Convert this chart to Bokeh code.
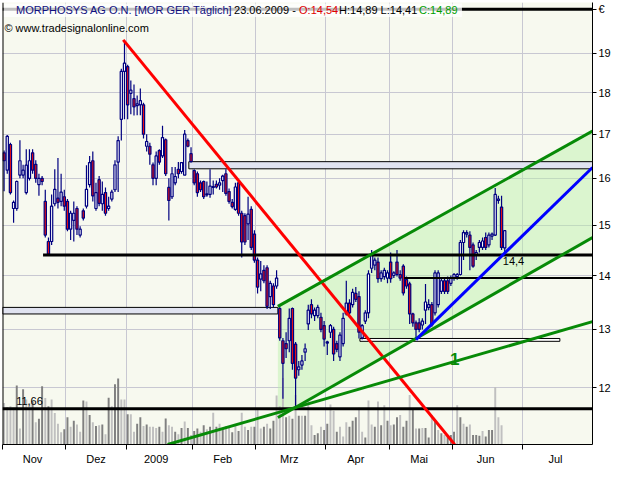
from bokeh.plotting import figure
from bokeh.models import Range1d, FixedTicker, ColumnDataSource, Span, NumeralTickFormatter, LinearScale
from bokeh.core.properties import value
from bokeh.embed import file_html
from bokeh.resources import INLINE

# ---------------- data ----------------
# trading-day index 0 = 3 Nov 2008 ... 158 = 23 Jun 2009
opens = [16.57,16.18,16.76,15.35,15.35,16.07,16.07,15.69,16.00,16.57,16.31,15.86,16.00,15.50,14.67,14.67,15.45,15.57,15.50,15.60,
         15.50,14.92,15.10,15.35,14.80,15.30,15.40,15.86,16.39,15.35,15.97,15.45,15.69,15.35,15.55,15.75,16.36,17.35,18.53,
         18.65,17.98,17.85,17.68,17.70,17.70,16.72,16.72,16.30,16.00,16.62,16.50,16.87,15.80,15.60,15.90,16.20,16.15,16.07,16.85,16.55,
         16.17,16.10,15.90,15.93,15.64,15.65,15.80,15.87,15.85,15.95,16.10,15.71,15.48,15.33,15.90,15.25,15.20,15.03,15.33,14.82,
         14.30,13.93,14.10,14.15,13.60,13.80,13.80,13.38,12.80,12.75,12.80,13.38,12.74,12.30,12.38,12.60,13.10,13.45,13.25,13.25,13.22,13.07,
         12.76,12.95,13.00,12.75,12.52,12.75,13.28,13.48,13.45,13.66,13.60,12.85,13.15,13.30,14.14,14.20,14.26,13.94,13.98,13.95,
         14.26,14.00,14.26,14.02,14.18,13.92,13.84,13.28,13.12,13.12,13.08,13.35,13.40,13.45,13.30,13.45,13.70,13.90,13.90,13.85,
         13.95,13.98,14.02,14.65,14.82,14.80,14.60,14.40,14.55,14.55,14.75,14.60,14.78,14.80,15.52,15.38,14.54]
highs = [16.62,16.98,16.80,15.52,15.95,16.86,16.30,16.65,16.65,16.65,16.40,16.10,16.05,15.75,14.75,15.65,16.20,16.45,16.10,15.75,
         15.55,15.30,15.50,15.40,14.98,15.35,16.29,16.50,16.60,15.90,16.05,15.93,15.80,15.60,15.75,16.40,16.95,18.60,19.34,
         18.70,18.30,18.20,17.93,18.10,17.75,17.00,16.80,16.35,16.60,16.65,17.20,16.90,16.00,16.25,16.25,16.36,16.36,17.10,16.90,16.70,
         16.20,16.15,15.95,15.95,15.93,16.20,15.95,15.95,16.00,16.08,16.20,15.78,15.55,15.90,15.95,15.30,15.25,15.60,15.40,14.90,
         14.35,14.28,14.20,14.20,13.90,13.85,14.10,13.42,12.85,12.95,13.38,13.40,12.78,12.45,12.55,12.75,13.45,13.55,13.40,13.45,13.30,13.15,
         12.80,13.10,13.05,12.80,12.95,13.30,13.90,13.55,13.75,13.78,13.70,13.10,13.35,14.10,14.50,14.35,14.35,14.10,14.15,14.10,
         14.45,14.08,14.50,14.10,14.22,13.98,13.88,13.30,13.16,13.20,13.20,13.84,13.55,13.50,14.10,14.10,13.95,13.95,13.98,14.00,
         14.05,14.05,14.70,14.90,14.90,14.88,14.65,14.50,14.70,14.75,14.85,14.85,14.85,15.79,15.62,15.62,14.89]
lows = [15.72,16.10,15.65,15.05,15.30,16.00,16.00,15.65,15.95,16.10,15.90,15.62,15.85,14.75,14.40,14.60,15.40,15.35,15.40,15.30,
        14.88,14.70,14.67,14.80,14.75,15.10,15.35,15.80,15.50,15.30,15.40,15.30,15.20,15.30,15.50,15.70,15.70,16.85,17.35,
        17.35,17.47,17.44,17.45,17.45,16.90,16.60,16.30,15.85,15.85,16.30,16.45,16.05,15.10,15.55,15.85,16.00,16.10,16.07,16.70,16.35,
        15.85,15.60,15.70,15.55,15.60,15.58,15.65,15.78,15.75,15.70,15.62,15.45,15.35,15.30,15.20,14.35,14.60,14.70,14.50,14.25,
        13.66,13.70,13.85,13.37,13.37,13.40,13.75,12.80,11.82,12.50,12.60,12.30,11.66,12.20,12.30,12.45,12.99,13.20,13.15,13.20,12.95,12.70,
        12.55,12.85,12.45,12.60,12.45,12.70,13.25,13.25,13.40,13.50,12.84,12.82,13.10,13.20,14.05,14.10,13.86,13.88,13.92,13.85,
        13.86,13.95,13.98,13.90,13.62,13.75,13.10,13.05,12.82,12.95,13.00,13.10,13.35,13.05,13.25,13.40,13.65,13.65,13.65,13.80,
        13.90,13.92,14.00,14.30,14.75,14.10,14.15,14.30,14.45,14.50,14.50,14.55,14.70,14.78,15.45,14.50,14.41]
closes = [16.39,16.95,15.69,15.48,15.93,16.39,16.18,16.29,16.39,16.18,16.00,16.00,15.93,14.80,14.42,15.40,15.76,15.48,15.70,15.40,
          14.92,15.25,15.25,14.92,14.92,15.15,15.76,16.35,15.62,15.69,15.46,15.65,15.25,15.40,15.70,16.30,16.85,18.53,18.74,
          17.70,18.06,17.65,17.72,17.80,17.00,16.83,16.54,16.00,16.50,16.36,16.92,16.10,15.52,16.10,16.04,16.10,16.35,17.00,16.72,16.37,
          15.90,15.69,15.75,15.60,15.66,15.83,15.82,15.81,15.90,16.05,15.67,15.50,15.39,15.81,15.25,14.66,14.66,15.23,14.55,14.30,
          13.78,14.03,13.90,13.42,13.85,13.45,13.95,12.85,12.41,12.66,13.20,12.41,12.16,12.35,12.45,12.66,13.35,13.28,13.35,13.40,13.00,12.83,
          12.78,13.07,12.57,12.65,12.90,13.20,13.48,13.30,13.68,13.55,12.95,13.07,13.30,14.03,14.40,14.30,13.94,14.05,14.10,14.05,
          13.94,14.05,14.02,13.95,13.67,13.80,13.28,13.12,13.00,13.00,13.15,13.50,13.45,13.08,14.05,14.05,13.90,13.70,13.70,13.95,
          14.02,14.02,14.65,14.85,14.85,14.55,14.18,14.45,14.65,14.68,14.55,14.80,14.82,15.65,15.55,14.55,14.89]
volume = [108,98,100,96,154,42,144,117,108,112,58,67,152,121,100,117,82,54,32,40,
          71,46,62,52,33,115,112,77,58,48,50,52,27,122,100,157,172,117,117,
          79,79,33,54,71,48,52,46,46,43,46,33,68,50,46,33,27,43,60,43,25,
          35,42,33,50,40,46,83,46,54,42,48,46,32,48,35,83,46,38,46,46,
          90,42,46,54,42,62,128,100,173,71,75,67,129,75,75,75,117,50,25,29,46,38,
          54,104,88,33,46,21,58,46,62,71,96,33,18,115,52,46,112,50,102,62,
          50,52,71,77,46,62,129,92,42,42,43,43,18,77,62,38,29,25,25,25,
          33,102,71,54,46,52,25,25,23,35,21,38,38,150,71,50,5]
volume_shade = ("LLLLDLDLLDLDDLDLLLLD" "DLDLLDLDLDLDLDLDDLL" "DLLDDLDLLLDLDLLDLDLD"
                "LDDLDLDLDLDLLDLDLLDL" "DLLDLDDLLLDLDLDLDLLDDL" "DDLLDLLLDDDLLDLLDLDL"
                "DLDDLDDLDLDLDDLDLDLD" "DDLDLDLDDDLDDDLLL")

month_labels = ["Nov", "Dez", "2009", "Feb", "Mrz", "Apr", "Mai", "Jun", "Jul"]
month_first_index = [0, 20, 39, 60, 80, 102, 122, 142, 164]
month_label_index = [9, 29, 48, 69, 90, 111, 131, 152, 174]
price_ticks = [12, 13, 14, 15, 16, 17, 18, 19]
currency_tick = 20.18

# drawn lines: (index, price) end points
red_trend = ([37.6, 142.2], [19.35, 11.10])
channel_upper = ([86.4, 185.7], [13.42, 17.07])
channel_lower = ([86.4, 185.7], [11.52, 14.75])
line_one = ([51.6, 185.7], [11.10, 13.14])
blue_trend = ([130.0, 185.7], [12.82, 16.24])
# horizontal lines: start index, end index, price, thickness
hlines_start = [12.3, 126.3, -0.5, -0.5]
hlines_end = [185.7, 185.7, 185.7, 185.7]
hlines_price = [14.40, 13.95, 11.66, 20.18]
hlines_width = [3, 2, 3, 3]
# zone boxes: left, right, bottom, top
zone_left = [58.3, -0.5]
zone_right = [185.7, 86.4]
zone_bottom = [16.21, 13.28]
zone_top = [16.37, 13.40]
thin_box = (112.3, 175.4, 12.79, 12.84)

title_parts = ["MORPHOSYS AG O.N. [MOR GER  Täglich]", "23.06.2009 -", "O:14,54", "H:14,89 L:14,41", "C:14,89"]
title_colors = ["#101080", "#000000", "#E00000", "#000000", "#00A000"]
title_offsets = [0, 218.0, 283.0, 323.0, 403.0]

# ---------------- figure ----------------
X0, X1 = -0.5, 185.7
Y0, Y1 = 11.10, 20.37
FONT = "Liberation Sans"

p = figure(frame_width=590, frame_height=442, x_range=Range1d(X0, X1), y_range=Range1d(Y0, Y1),
           y_axis_type="log", y_axis_location="right", output_backend="svg", toolbar_location=None,
           min_border_left=2, min_border_right=30, min_border_top=2, min_border_bottom=18,
           background_fill_color="#F7F9EF", border_fill_color="white", outline_line_color=None)
p.extra_y_ranges = {"vol": Range1d(0, 1152)}
p.extra_y_scales = {"vol": LinearScale()}

# axes
p.yaxis.ticker = FixedTicker(ticks=price_ticks + [currency_tick], minor_ticks=[])
p.yaxis.formatter = NumeralTickFormatter(format="0")
p.yaxis.major_label_overrides = {currency_tick: "€"}
p.yaxis.major_tick_out = 4
p.yaxis.major_tick_in = 0
p.yaxis.minor_tick_out = 0
p.yaxis.minor_tick_in = 0
p.yaxis.major_label_standoff = 2
p.xaxis.ticker = FixedTicker(ticks=month_label_index, minor_ticks=[k - 0.5 for k in month_first_index])
p.xaxis.major_label_overrides = {k: lab for k, lab in zip(month_label_index, month_labels)}
p.xaxis.major_tick_out = 0
p.xaxis.major_tick_in = 0
p.xaxis.minor_tick_out = 5
p.xaxis.minor_tick_in = 0
p.xaxis.major_label_standoff = 3
for ax in (p.xaxis, p.yaxis):
    ax.axis_line_color = "black"
    ax.major_tick_line_color = "black"
    ax.minor_tick_line_color = "black"
    ax.major_label_text_font = FONT
    ax.major_label_text_font_size = "11px"
    ax.major_label_text_color = "black"

p.xgrid.ticker = FixedTicker(ticks=[k - 0.5 for k in month_first_index])
p.ygrid.ticker = FixedTicker(ticks=price_ticks)
p.grid.grid_line_color = "#C8C8D2"
p.grid.grid_line_width = 1

p.add_layout(Span(location=X0, dimension="height", line_color="black", line_width=2))

# channel fill
p.patch(x=channel_upper[0] + channel_lower[0][::-1], y=channel_upper[1] + channel_lower[1][::-1],
        fill_color="#B8F0A8", fill_alpha=0.45, line_color=None)

# volume
idx = list(range(len(closes)))
vol_colors = ["#808080" if s == "D" else "#C0C0C0" for s in volume_shade]
p.vbar(x=idx, top=volume, bottom=0, width=0.62, fill_color=vol_colors, line_color=None, y_range_name="vol")

# zones
p.quad(left=zone_left, right=zone_right, bottom=zone_bottom, top=zone_top,
       fill_color="#E0E3F0", line_color="black", line_width=1)
p.quad(left=[thin_box[0]], right=[thin_box[1]], bottom=[thin_box[2]], top=[thin_box[3]],
       fill_color="#FFFFFF", line_color="black", line_width=1)

# candles
src = ColumnDataSource(dict(
    x=idx, low=lows, high=highs,
    bottom=[min(o, c) for o, c in zip(opens, closes)],
    top=[max(o, c) for o, c in zip(opens, closes)],
    color=["#FFFFFF" if c >= o else "#EE1111" for o, c in zip(opens, closes)],
))
p.segment(x0="x", y0="low", x1="x", y1="high", source=src, line_color="#000080", line_width=1.2)
p.vbar(x="x", bottom="bottom", top="top", width=0.7, fill_color="color", line_color="#000080",
       line_width=1.2, source=src)

# horizontal lines
p.segment(x0=hlines_start, x1=hlines_end, y0=hlines_price, y1=hlines_price,
          line_color="black", line_width=hlines_width)

# trend lines
p.line(x=red_trend[0], y=red_trend[1], line_color="#FF0000", line_width=3)
for ln in (channel_upper, channel_lower, line_one):
    p.line(x=ln[0], y=ln[1], line_color="#078A07", line_width=3)
p.line(x=blue_trend[0], y=blue_trend[1], line_color="#0000FF", line_width=3)

# texts
p.text(x=[3.8], y=[11.78], text=["11,66"], text_font=value(FONT), text_font_size="11px",
       text_color="black", text_baseline="middle", text_align="left")
p.text(x=[157.4], y=[14.29], text=["14,4"], text_font=value(FONT), text_font_size="11px",
       text_color="black", text_baseline="middle", text_align="left")
p.text(x=[142.2], y=[12.475], text=["1"], text_font=value(FONT), text_font_size="17px",
       text_font_style="bold", text_color="#078A07", text_baseline="middle", text_align="center")

# title row
p.quad(left=[-0.2], right=[144.5], bottom=[19.97], top=[20.34], fill_color="white", fill_alpha=0.75,
       line_color=None)
tsrc = ColumnDataSource(dict(x=[3.77] * len(title_parts), y=[20.17] * len(title_parts),
                             text=title_parts, color=title_colors, off=title_offsets))
p.text(x="x", y="y", text="text", text_color="color", x_offset="off", source=tsrc,
       text_font=value(FONT), text_font_size="11px", text_baseline="middle", text_align="left")
p.text(x=[0.1], y=[19.68], text=["© www.tradesignalonline.com"], text_font=value(FONT),
       text_font_size="11px", text_color="black", text_baseline="middle", text_align="left")

open("out.html", "w").write(file_html(p, INLINE))
